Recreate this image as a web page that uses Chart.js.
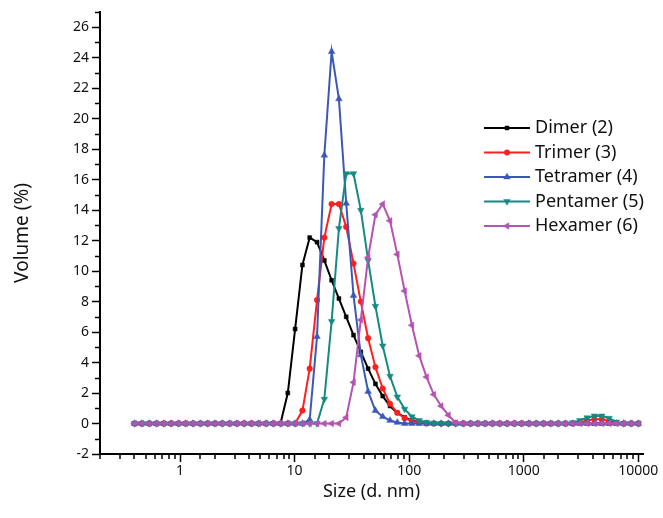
<!DOCTYPE html>
<html>
<head>
<meta charset="utf-8">
<script src="https://cdn.jsdelivr.net/npm/chart.js@4.4.1/dist/chart.umd.min.js"></script>
<style>
  html, body { margin: 0; padding: 0; background: #fff; }
  #wrap { width: 663px; height: 518px; }
</style>
</head>
<body>
<div id="wrap"><canvas id="dlsChart" width="663" height="518"></canvas></div>
<script>
// size classes (d. nm)
const sizes = [
  0.4, 0.4632, 0.5365, 0.6213, 0.7195, 0.8332, 0.9649, 1.117, 1.294, 1.499,
  1.736, 2.010, 2.328, 2.696, 3.122, 3.615, 4.187, 4.849, 5.615, 6.503,
  7.531, 8.721, 10.10, 11.70, 13.54, 15.69, 18.17, 21.04, 24.36, 28.21,
  32.67, 37.84, 43.82, 50.75, 58.77, 68.06, 78.82, 91.28, 105.7, 122.4,
  141.8, 164.2, 190.1, 220.2, 255.0, 295.3, 342.0, 396.1, 458.7, 531.2,
  615.1, 712.4, 825.0, 955.4, 1106, 1281, 1484, 1718, 1990, 2305,
  2669, 3091, 3580, 4145, 4801, 5560, 6439, 7456, 8635, 10000
];

const dimer = [
  0, 0, 0, 0, 0, 0, 0, 0, 0, 0,
  0, 0, 0, 0, 0, 0, 0, 0, 0, 0,
  0, 2.0, 6.2, 10.4, 12.2, 11.9, 10.7, 9.4, 8.2, 7.0,
  5.8, 4.7, 3.6, 2.6, 1.8, 1.15, 0.7, 0.4, 0.2, 0.1,
  0.04, 0, 0, 0, 0, 0, 0, 0, 0, 0,
  0, 0, 0, 0, 0, 0, 0, 0, 0, 0,
  0, 0, 0, 0, 0, 0, 0, 0, 0, 0
];
const trimer = [
  0, 0, 0, 0, 0, 0, 0, 0, 0, 0,
  0, 0, 0, 0, 0, 0, 0, 0, 0, 0,
  0, 0, 0, 0.85, 3.6, 8.1, 12.2, 14.4, 14.4, 12.9,
  10.5, 8.0, 5.6, 3.7, 2.3, 1.3, 0.7, 0.35, 0.17, 0.07,
  0, 0, 0, 0, 0, 0, 0, 0, 0, 0,
  0, 0, 0, 0, 0, 0, 0, 0, 0, 0,
  0, 0.05, 0.2, 0.28, 0.28, 0.15, 0.03, 0, 0, 0
];
const tetramer = [
  0, 0, 0, 0, 0, 0, 0, 0, 0, 0,
  0, 0, 0, 0, 0, 0, 0, 0, 0, 0,
  0, 0, 0, 0, 0.25, 5.7, 17.6, 24.4, 21.3, 14.45,
  8.4, 4.5, 2.1, 0.85, 0.45, 0.2, 0.07, 0, 0, 0,
  0, 0, 0, 0, 0, 0, 0, 0, 0, 0,
  0, 0, 0, 0, 0, 0, 0, 0, 0, 0,
  0, 0, 0, 0, 0, 0, 0, 0, 0, 0
];
const pentamer = [
  0, 0, 0, 0, 0, 0, 0, 0, 0, 0,
  0, 0, 0, 0, 0, 0, 0, 0, 0, 0,
  0, 0, 0, 0, 0, 0, 1.6, 6.7, 12.8, 16.4,
  16.4, 14.0, 10.7, 7.7, 5.1, 3.1, 1.75, 0.95, 0.45, 0.2,
  0.08, 0.03, 0, 0, 0, 0, 0, 0, 0, 0,
  0, 0, 0, 0, 0, 0, 0, 0, 0, 0,
  0.05, 0.2, 0.38, 0.5, 0.5, 0.35, 0.1, 0, 0, 0
];
const hexamer = [
  0, 0, 0, 0, 0, 0, 0, 0, 0, 0,
  0, 0, 0, 0, 0, 0, 0, 0, 0, 0,
  0, 0, 0, 0, 0, 0, 0, 0, 0, 0.4,
  2.7, 6.8, 10.9, 13.7, 14.4, 13.3, 11.1, 8.7, 6.45, 4.45,
  3.05, 1.9, 1.15, 0.55, 0.05, 0, 0, 0, 0, 0,
  0, 0, 0, 0, 0, 0, 0, 0, 0, 0,
  0, 0, 0, 0, 0, 0, 0, 0, 0, 0
];

const seriesNames = ['Dimer (2)', 'Trimer (3)', 'Tetramer (4)', 'Pentamer (5)', 'Hexamer (6)'];
const xTickValues = [1, 10, 100, 1000, 10000];
const xTickLabels = ['1', '10', '100', '1000', '10000'];

const colors = ['#000000', '#ff1f1f', '#3c58b6', '#158a82', '#b553b3'];
const shapes = ['rect', 'circle', 'triangle', 'triangle', 'triangle'];
const rotations = [0, 0, 0, 180, 270];
const radii = [2.8, 2.8, 3.8, 3.8, 3.8];
const FONT = '"Noto Sans", "DejaVu Sans", sans-serif';

const allSeries = [dimer, trimer, tetramer, pentamer, hexamer];

const datasets = allSeries.map((vals, i) => ({
  label: seriesNames[i],
  data: vals.map((v, j) => ({ x: sizes[j], y: v })),
  borderColor: colors[i],
  backgroundColor: colors[i],
  borderWidth: 2,
  pointStyle: shapes[i],
  pointRotation: rotations[i],
  pointRadius: radii[i],
  pointBorderWidth: 0.5,
  tension: 0,
  order: allSeries.length - i
}));

// short minor ticks + in-plot legend
const extras = {
  id: 'extras',
  afterDraw(chart) {
    const ctx = chart.ctx;
    const xs = chart.scales.x, ys = chart.scales.y;
    ctx.save();
    ctx.strokeStyle = '#000';
    ctx.lineWidth = 1.5;
    ctx.beginPath();
    xs.ticks.forEach((t, i) => {
      if (xTickValues.includes(t.value) || t.value > 10000 || t.value < xs.min) return;
      const px = Math.round(xs.getPixelForTick(i));
      ctx.moveTo(px, xs.top);
      ctx.lineTo(px, xs.top + 5);
    });
    ys.ticks.forEach((t, i) => {
      if (t.value % 2 === 0) return;
      const py = Math.round(ys.getPixelForTick(i)) + 0.5;
      ctx.moveTo(ys.right, py);
      ctx.lineTo(ys.right - 5, py);
    });
    ctx.stroke();

    // legend
    const x0 = chart.chartArea.right - 159;
    const y0 = 128;
    const rowH = 24.5;
    ctx.font = '18px ' + FONT;
    ctx.textBaseline = 'middle';
    ctx.textAlign = 'left';
    chart.data.datasets.forEach((ds, i) => {
      const y = y0 + i * rowH;
      ctx.strokeStyle = ds.borderColor;
      ctx.lineWidth = 2;
      ctx.beginPath();
      ctx.moveTo(x0, y);
      ctx.lineTo(x0 + 46, y);
      ctx.stroke();
      ctx.fillStyle = ds.backgroundColor;
      ctx.strokeStyle = ds.borderColor;
      ctx.lineWidth = 0.5;
      Chart.helpers.drawPoint(ctx, { pointStyle: ds.pointStyle, rotation: ds.pointRotation, radius: ds.pointRadius, borderWidth: 0.5 }, x0 + 23, y);
      ctx.fillStyle = '#111';
      ctx.fillText(ds.label, x0 + 51, y);
    });
    ctx.restore();
  }
};

new Chart(document.getElementById('dlsChart'), {
  type: 'line',
  data: { datasets: datasets },
  options: {
    responsive: false,
    animation: false,
    layout: { padding: { left: 0, right: 20, top: 12, bottom: 0 } },
    plugins: {
      legend: { display: false },
      tooltip: { enabled: false }
    },
    scales: {
      x: {
        type: 'logarithmic',
        min: 0.2,
        max: 11000,
        grid: {
          drawOnChartArea: false,
          tickLength: 8,
          tickWidth: 1.5,
          tickColor: (c) => (c.tick && xTickValues.includes(c.tick.value)) ? '#000' : 'rgba(0,0,0,0)'
        },
        border: { color: '#000', width: 2 },
        ticks: {
          autoSkip: false,
          maxRotation: 0,
          padding: 1,
          color: '#111',
          font: { family: FONT, size: 14 },
          callback: (v) => {
            const k = xTickValues.indexOf(v);
            return k >= 0 ? xTickLabels[k] : '';
          }
        },
        title: {
          display: true,
          text: 'Size (d. nm)',
          color: '#111',
          font: { family: FONT, size: 18 },
          padding: { top: 0, bottom: 15 }
        },
        afterFit: (s) => { s.height = 64; }
      },
      y: {
        min: -2,
        max: 27,
        grid: {
          drawOnChartArea: false,
          tickLength: 8,
          tickWidth: 1.5,
          tickColor: (c) => (c.tick && c.tick.value % 2 === 0) ? '#000' : 'rgba(0,0,0,0)'
        },
        border: { color: '#000', width: 2 },
        ticks: {
          stepSize: 1,
          autoSkip: false,
          includeBounds: false,
          padding: 3,
          color: '#111',
          font: { family: FONT, size: 14 },
          callback: (v) => v % 2 === 0 ? String(v) : ''
        },
        title: {
          display: true,
          text: 'Volume (%)',
          color: '#111',
          font: { family: FONT, size: 19 },
          padding: { top: 11, bottom: 0 }
        },
        afterFit: (s) => { s.width = 100; }
      }
    }
  },
  plugins: [extras]
});
</script>
</body>
</html>
